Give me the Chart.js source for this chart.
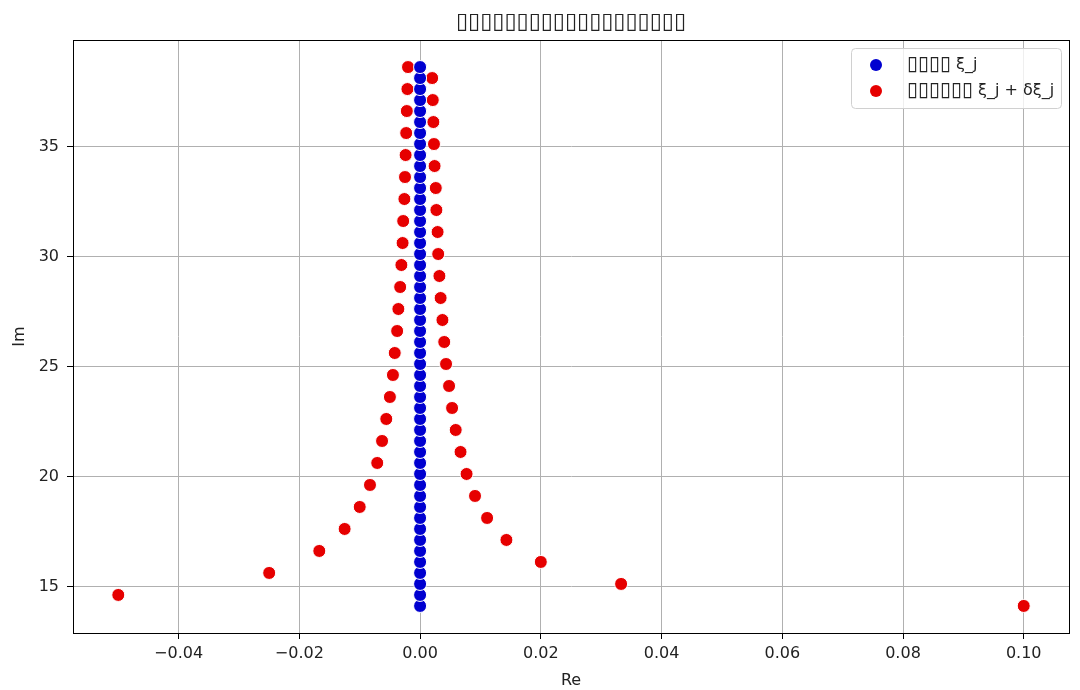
<!DOCTYPE html>
<html>
<head>
<meta charset="utf-8">
<script src="https://cdn.jsdelivr.net/npm/chart.js@4.4.1/dist/chart.umd.min.js"></script>
<style>
  html, body { margin: 0; padding: 0; background: #fff; }
  #wrap { width: 1080px; height: 690px; }
</style>
</head>
<body>
<div id="wrap"><canvas id="zeros"></canvas></div>
<script>
// Imaginary parts shared by both series
const imParts = [
  14.13, 14.63, 15.13, 15.63, 16.13, 16.63, 17.13, 17.63, 18.13, 18.63,
  19.13, 19.63, 20.13, 20.63, 21.13, 21.63, 22.13, 22.63, 23.13, 23.63,
  24.13, 24.63, 25.13, 25.63, 26.13, 26.63, 27.13, 27.63, 28.13, 28.63,
  29.13, 29.63, 30.13, 30.63, 31.13, 31.63, 32.13, 32.63, 33.13, 33.63,
  34.13, 34.63, 35.13, 35.63, 36.13, 36.63, 37.13, 37.63, 38.13, 38.63
];

// Real parts of the original points (all on the axis)
const baseRe = [
  0, 0, 0, 0, 0, 0, 0, 0, 0, 0,
  0, 0, 0, 0, 0, 0, 0, 0, 0, 0,
  0, 0, 0, 0, 0, 0, 0, 0, 0, 0,
  0, 0, 0, 0, 0, 0, 0, 0, 0, 0,
  0, 0, 0, 0, 0, 0, 0, 0, 0, 0
];

// Real parts of the perturbed points
const perturbedRe = [
  0.1, -0.05, 0.0333, -0.025, 0.02, -0.0167, 0.0143, -0.0125, 0.0111, -0.01,
  0.0091, -0.0083, 0.0077, -0.0071, 0.0067, -0.0063, 0.0059, -0.0056, 0.0053, -0.005,
  0.0048, -0.0045, 0.0043, -0.0042, 0.004, -0.0038, 0.0037, -0.0036, 0.0034, -0.0033,
  0.0032, -0.0031, 0.003, -0.0029, 0.0029, -0.0028, 0.0027, -0.0026, 0.0026, -0.0025,
  0.0024, -0.0024, 0.0023, -0.0023, 0.0022, -0.0022, 0.0021, -0.0021, 0.002, -0.002
];

const xTicks = [-0.04, -0.02, 0.0, 0.02, 0.04, 0.06, 0.08, 0.1];
const yTicks = [15, 20, 25, 30, 35];

// the original glyphs are missing (tofu), kept as box characters
const seriesLabels = ["▯▯▯▯ ξ_j", "▯▯▯▯▯▯ ξ_j + δξ_j"];
const titleText = "▯▯▯▯▯▯▯▯▯▯▯▯▯▯▯▯▯▯▯";

const FONT = "'DejaVu Sans', sans-serif";

//Frame round the plot area (all four spines) + title centred over the plot
const framePlugin = {
  id: "frame",
  afterDatasetsDraw(chart) {
    const { ctx, chartArea: a } = chart;
    ctx.save();
    ctx.strokeStyle = "#000";
    ctx.lineWidth = 1;
    ctx.strokeRect(a.left + 0.5, a.top + 0.5, a.right - a.left, a.bottom - a.top);
    ctx.fillStyle = "#222";
    ctx.font = "22px " + FONT;
    ctx.textAlign = "center";
    ctx.textBaseline = "middle";
    ctx.fillText(titleText, (a.left + a.right) / 2, 22);
    ctx.restore();
  }
};

//Legend inside the plot, top right
const innerLegend = {
  id: "innerLegend",
  afterDraw(chart) {
    const { ctx, chartArea: a } = chart;
    const w = 210, h = 60;
    const x0 = a.right - 8 - w, y0 = a.top + 8;
    ctx.save();
    ctx.fillStyle = "rgba(255,255,255,0.8)";
    ctx.strokeStyle = "#d0d0d0";
    ctx.lineWidth = 1;
    ctx.beginPath();
    ctx.roundRect(x0 + 0.5, y0 + 0.5, w, h, 4);
    ctx.fill();
    ctx.stroke();
    ctx.textBaseline = "middle";
    chart.data.datasets.forEach((ds, i) => {
      const cy = y0 + 17 + i * 26;
      ctx.beginPath();
      ctx.arc(x0 + 25, cy, 6, 0, Math.PI * 2);
      ctx.fillStyle = ds.backgroundColor;
      ctx.fill();
      ctx.fillStyle = "#222";
      // box glyphs drawn bigger, the rest at normal size
      const cut = ds.label.indexOf(" ");
      const boxes = ds.label.slice(0, cut);
      const rest = ds.label.slice(cut);
      ctx.font = "20px " + FONT;
      ctx.fillText(boxes, x0 + 56, cy);
      const bw = ctx.measureText(boxes).width;
      ctx.font = "16px " + FONT;
      ctx.fillText(rest, x0 + 56 + bw, cy);
    });
    ctx.restore();
  }
};

function fmtX(v) {
  const s = Math.abs(v) < 1e-9 ? "0.00" : v.toFixed(2);
  return s.replace("-", "\u2212");
}

new Chart(document.getElementById("zeros"), {
  type: "scatter",
  data: {
    datasets: [
      {
        label: seriesLabels[0],
        data: imParts.map((y, i) => ({ x: baseRe[i], y })),
        backgroundColor: "#0000d0",
        borderColor: "#ffffff",
        borderWidth: 1,
        pointRadius: 6.5,
      },
      {
        label: seriesLabels[1],
        data: imParts.map((y, i) => ({ x: perturbedRe[i], y })),
        backgroundColor: "#e60000",
        borderColor: "#ffffff",
        borderWidth: 1,
        pointRadius: 6.5,
      },
    ],
  },
  plugins: [framePlugin, innerLegend],
  options: {
    responsive: true,
    maintainAspectRatio: false,
    animation: false,
    devicePixelRatio: 1,
    layout: { padding: { left: 0, right: 11, top: 40, bottom: 0 } },
    plugins: {
      legend: { display: false },
      tooltip: { enabled: false },
      title: { display: false },
    },
    scales: {
      x: {
        type: "linear",
        min: -0.0575,
        max: 0.1075,
        afterBuildTicks: (s) => { s.ticks = xTicks.map((v) => ({ value: v })); },
        afterFit: (s) => { s.height = 57; },
        border: { color: "#000", width: 1 },
        grid: { color: "#b0b0b0", lineWidth: 1, tickColor: "#000", tickLength: 6 },
        ticks: {
          color: "#222",
          font: { family: FONT, size: 16 },
          padding: 5,
          maxRotation: 0,
          callback: (v) => fmtX(v),
        },
        title: {
          display: true,
          text: "Re",
          color: "#222",
          font: { family: FONT, size: 16 },
          padding: { top: 2, bottom: 0 },
        },
      },
      y: {
        type: "linear",
        min: 12.9,
        max: 39.86,
        afterBuildTicks: (s) => { s.ticks = yTicks.map((v) => ({ value: v })); },
        afterFit: (s) => { s.width = 73; },
        border: { color: "#000", width: 1 },
        grid: { color: "#b0b0b0", lineWidth: 1, tickColor: "#000", tickLength: 6 },
        ticks: {
          color: "#222",
          font: { family: FONT, size: 16 },
          padding: 8,
          callback: (v) => String(v),
        },
        title: {
          display: true,
          text: "Im",
          color: "#222",
          font: { family: FONT, size: 16 },
          padding: { top: 10, bottom: 0 },
        },
      },
    },
  },
});
</script>
</body>
</html>
